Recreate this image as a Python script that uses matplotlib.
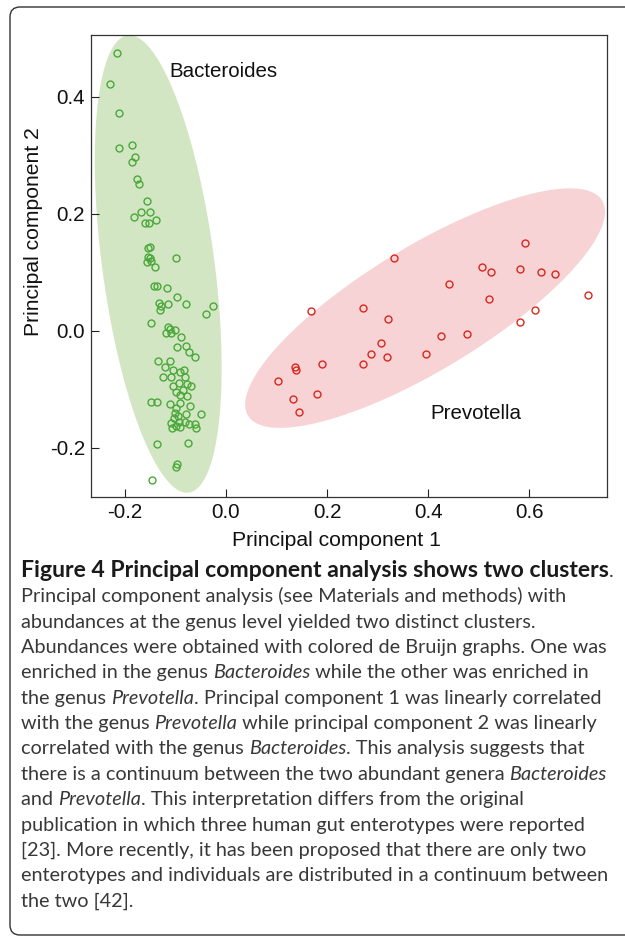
import numpy as np
import matplotlib
matplotlib.use("Agg")
import matplotlib.pyplot as plt
from matplotlib.patches import FancyBboxPatch

# ---------------- data ----------------
bacteroides_x = [-0.215, -0.230, -0.212, -0.211, -0.185, -0.180, -0.186, -0.175, -0.173,
                 -0.156, -0.168, -0.150, -0.182, -0.139, -0.161, -0.153, -0.150, -0.154,
                 -0.098, -0.155, -0.150, -0.157, -0.149, -0.140,
                 -0.143, -0.136, -0.117, -0.096, -0.132, -0.114, -0.128, -0.131, -0.079,
                 -0.040, -0.026, -0.149, -0.114, -0.111, -0.119, -0.100, -0.108, -0.088,
                 -0.096, -0.079, -0.073, -0.062, -0.134, -0.111, -0.121, -0.104, -0.091,
                 -0.083, -0.124, -0.109, -0.081, -0.092, -0.078, -0.069, -0.104, -0.098,
                 -0.085, -0.091, -0.078, -0.149, -0.136, -0.110, -0.099, -0.091, -0.071,
                 -0.101, -0.094, -0.079, -0.103, -0.050, -0.108, -0.099, -0.090, -0.081,
                 -0.074, -0.062, -0.060, -0.106, -0.092, -0.137, -0.075, -0.096, -0.098,
                 -0.146]
bacteroides_y = [0.476, 0.422, 0.372, 0.312, 0.318, 0.297, 0.289, 0.260, 0.252,
                 0.223, 0.204, 0.203, 0.194, 0.190, 0.185, 0.185, 0.144, 0.141,
                 0.124, 0.126, 0.124, 0.117, 0.120, 0.110,
                 0.076, 0.076, 0.073, 0.058, 0.048, 0.046, 0.042, 0.035, 0.046,
                 0.029, 0.043, 0.014, 0.007, 0.003, -0.004, 0.002, -0.003, -0.011,
                 -0.027, -0.026, -0.036, -0.045, -0.052, -0.051, -0.061, -0.067, -0.070,
                 -0.067, -0.079, -0.079, -0.078, -0.089, -0.091, -0.094, -0.095, -0.104,
                 -0.101, -0.109, -0.111, -0.121, -0.121, -0.125, -0.132, -0.124, -0.129,
                 -0.141, -0.146, -0.142, -0.149, -0.142, -0.158, -0.162, -0.165, -0.156,
                 -0.160, -0.160, -0.166, -0.166, -0.155, -0.193, -0.191, -0.227, -0.232,
                 -0.255]

prevotella_x = [0.333, 0.592, 0.506, 0.525, 0.582, 0.624, 0.651, 0.716, 0.441, 0.521,
                0.611, 0.582, 0.168, 0.271, 0.321, 0.426, 0.476, 0.306, 0.287, 0.319,
                0.395, 0.272, 0.190, 0.137, 0.139, 0.103, 0.180, 0.132, 0.144]
prevotella_y = [0.125, 0.150, 0.109, 0.100, 0.106, 0.101, 0.097, 0.062, 0.081, 0.054,
                0.036, 0.015, 0.034, 0.039, 0.021, -0.008, -0.005, -0.021, -0.039, -0.045,
                -0.040, -0.057, -0.057, -0.062, -0.067, -0.085, -0.108, -0.116, -0.139]

x_ticks = [-0.2, 0.0, 0.2, 0.4, 0.6]
y_ticks = [-0.2, 0.0, 0.2, 0.4]
x_label = "Principal component 1"
y_label = "Principal component 2"
group_labels = ["Bacteroides", "Prevotella"]

caption_lines = [
    [("Figure 4 Principal component analysis shows two clusters", "b"), (".", "r")],
    [("Principal component analysis (see Materials and methods) with", "r")],
    [("abundances at the genus level yielded two distinct clusters.", "r")],
    [("Abundances were obtained with colored de Bruijn graphs. One was", "r")],
    [("enriched in the genus ", "r"), ("Bacteroides", "i"), (" while the other was enriched in", "r")],
    [("the genus ", "r"), ("Prevotella", "i"), (". Principal component 1 was linearly correlated", "r")],
    [("with the genus ", "r"), ("Prevotella", "i"), (" while principal component 2 was linearly", "r")],
    [("correlated with the genus ", "r"), ("Bacteroides", "i"), (". This analysis suggests that", "r")],
    [("there is a continuum between the two abundant genera ", "r"), ("Bacteroides", "i")],
    [("and ", "r"), ("Prevotella", "i"), (". This interpretation differs from the original", "r")],
    [("publication in which three human gut enterotypes were reported", "r")],
    [("[23]. More recently, it has been proposed that there are only two", "r")],
    [("enterotypes and individuals are distributed in a continuum between", "r")],
    [("the two [42].", "r")],
]

# ---------------- figure ----------------
W, H, DPI = 625, 938, 100
fig = plt.figure(figsize=(W / DPI, H / DPI), dpi=DPI)
fig.patch.set_facecolor("white")

AX_L, AX_R, AX_T, AX_B = 91, 607, 35, 497
ax = fig.add_axes([AX_L / W, 1 - AX_B / H, (AX_R - AX_L) / W, (AX_B - AX_T) / H])
ax.set_xlim(-0.267, 0.754)
ax.set_ylim(-0.284, 0.506)

green_fill, green_edge = "#d3e6c3", "#4aa83a"
red_fill, red_edge = "#f7d3d6", "#d8281d"

# cluster ellipses (centre + two conjugate semi-diameters, data units)
t = np.linspace(0, 2 * np.pi, 300)
def ellipse(c, u, v):
    return (c[0] + np.cos(t) * u[0] + np.sin(t) * v[0],
            c[1] + np.cos(t) * u[1] + np.sin(t) * v[1])

ex, ey = ellipse((-0.134, 0.1145), (0.0604, -0.391), (0.110, 0.0126))
ax.fill(ex, ey, color=green_fill, lw=0, zorder=1)
ex, ey = ellipse((0.394, 0.039), (0.3503, 0.1839), (0.0636, -0.0901))
ax.fill(ex, ey, color=red_fill, lw=0, zorder=1)

ms = 5.0
ax.plot(bacteroides_x, bacteroides_y, "o", ms=ms, mfc="none", mec=green_edge, mew=1.0, zorder=3)
ax.plot(prevotella_x, prevotella_y, "o", ms=ms, mfc="none", mec=red_edge, mew=1.0, zorder=3)

afont = "Liberation Sans"
fs = 14.8
ax.text(-0.111, 0.434, group_labels[0], fontsize=fs, family=afont, color="#111111", zorder=4)
ax.text(0.404, -0.151, group_labels[1], fontsize=fs, family=afont, color="#111111", zorder=4)

ax.set_xticks(x_ticks)
ax.set_yticks(y_ticks)
ax.set_xticklabels([f"{v:.1f}" for v in x_ticks], family=afont, fontsize=fs)
ax.set_yticklabels([f"{v:.1f}" for v in y_ticks], family=afont, fontsize=fs)
ax.tick_params(direction="in", length=5.8, width=0.8, pad=4.3, colors="#222222", labelcolor="#111111")
for s in ax.spines.values():
    s.set_linewidth(0.9)
    s.set_color("#333333")

ax.set_xlabel(x_label, family=afont, fontsize=15.2, color="#111111", va="center", ha="center")
ax.xaxis.set_label_coords((336 - AX_L) / (AX_R - AX_L), (AX_B - 541) / (AX_B - AX_T))
ax.set_ylabel(y_label, family=afont, fontsize=15.2, color="#111111", va="center", ha="center")
ax.yaxis.set_label_coords((33.5 - AX_L) / (AX_R - AX_L), (AX_B - 232) / (AX_B - AX_T))

# ---------------- frame ----------------
frame = FancyBboxPatch((10 / W, 1 - 935 / H), 700 / W, (935 - 7) / H,
                       boxstyle="round,pad=0,rounding_size=0.016",
                       transform=fig.transFigure, fill=False, ec="#333333", lw=1.0,
                       mutation_aspect=W / H)
fig.add_artist(frame)

# ---------------- caption ----------------
cfont = "Lato"
renderer = fig.canvas.get_renderer()
styles = {"r": dict(weight="normal", style="normal"),
          "b": dict(weight="bold", style="normal"),
          "i": dict(weight="normal", style="italic")}

def seg_width(s, size, st):
    t1 = fig.text(0, 0, "H" + s + "H", fontsize=size, family=cfont, **styles[st])
    t2 = fig.text(0, 0, "HH", fontsize=size, family=cfont, **styles[st])
    w = t1.get_window_extent(renderer).width - t2.get_window_extent(renderer).width
    t1.remove(); t2.remove()
    return w

w10 = seg_width(caption_lines[1][0][0], 10, "r")
cfs = 10 * 547 / w10
wb = seg_width(caption_lines[0][0][0], 10, "b")
bfs = 10 * 590 / wb

x0, base0, step = 20.7, 577, 25.35
for i, line in enumerate(caption_lines):
    x = x0
    yb = base0 + i * step
    for text, st in line:
        size = bfs if st == "b" else cfs
        col = "#1a1a1a" if st == "b" else "#383838"
        fig.text(x / W, 1 - yb / H, text, fontsize=size, family=cfont, va="baseline",
                 ha="left", color=col, **styles[st])
        x += seg_width(text, size, st)

fig.savefig("out.png", dpi=DPI)
